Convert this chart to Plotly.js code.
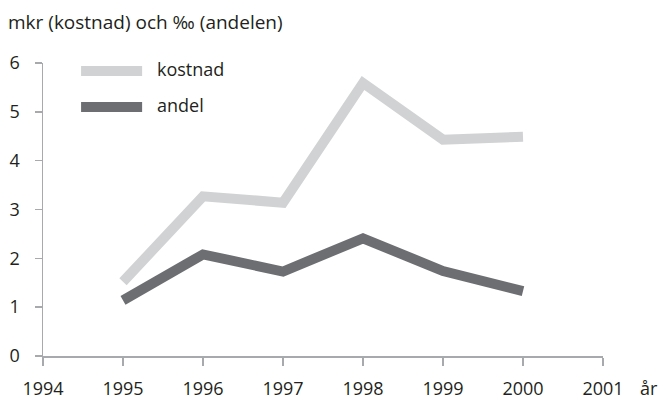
<!DOCTYPE html>
<html>
<head>
<meta charset="utf-8">
<script src="https://cdn.plot.ly/plotly-3.0.1.min.js"></script>
<style>html,body{margin:0;padding:0;background:#fff;}#chart{width:667px;height:401px;}</style>
</head>
<body>
<div id="chart"></div>
<script>
const years = [1995, 1996, 1997, 1998, 1999, 2000];
const kostnad = [1.52, 3.27, 3.14, 5.59, 4.43, 4.49];
const andel = [1.14, 2.08, 1.73, 2.41, 1.74, 1.33];
const xTicks = [1994, 1995, 1996, 1997, 1998, 1999, 2000, 2001];
const yTicks = [0, 1, 2, 3, 4, 5, 6];
const seriesNames = ['kostnad', 'andel'];
const seriesColors = ['#d1d2d4', '#6d6e71'];

const font = {family: 'Open Sans, sans-serif', size: 18, color: '#231f20'};
const axisColor = '#a7a9ac';

const traces = [
  {x: years, y: kostnad, name: seriesNames[0], mode: 'lines', line: {color: seriesColors[0], width: 10}, hoverinfo: 'skip'},
  {x: years, y: andel, name: seriesNames[1], mode: 'lines', line: {color: seriesColors[1], width: 10}, hoverinfo: 'skip'}
];

const legendY = [0.973, 0.85];
const shapes = seriesNames.map((n, i) => ({
  type: 'line', xref: 'paper', yref: 'paper',
  x0: 0.068, x1: 0.177, y0: legendY[i], y1: legendY[i],
  line: {color: seriesColors[i], width: 10}
}));
const annotations = seriesNames.map((n, i) => ({
  text: n, xref: 'paper', yref: 'paper', x: 0.2, y: legendY[i] + 0.005,
  xanchor: 'left', yanchor: 'middle', showarrow: false, font: font
}));
annotations.push({
  text: 'år', xref: 'paper', yref: 'paper', x: 1.062, y: -0.108,
  xanchor: 'left', yanchor: 'middle', showarrow: false, font: font
});

const layout = {
  width: 667, height: 401,
  margin: {l: 43, r: 64, t: 63, b: 45},
  paper_bgcolor: '#fff', plot_bgcolor: '#fff',
  font: font,
  showlegend: false,
  title: {text: 'mkr (kostnad) och ‰ (andelen)', x: 0.012, xref: 'container', xanchor: 'left', y: 0.945, yref: 'container', yanchor: 'middle', font: {family: font.family, size: 19, color: font.color}},
  xaxis: {
    range: [1994, 2001], tickvals: xTicks, ticktext: xTicks.map(String),
    showgrid: false, zeroline: false, showline: true, linecolor: axisColor, linewidth: 1.5,
    ticks: 'outside', ticklen: 8, tickcolor: axisColor, tickwidth: 1.5,
    ticklabelstandoff: 8, tickfont: font, fixedrange: true
  },
  yaxis: {
    range: [0, 6], tickvals: yTicks, ticktext: yTicks.map(String),
    showgrid: false, zeroline: false, showline: true, linecolor: axisColor, linewidth: 1.5,
    ticks: 'outside', ticklen: 7, tickcolor: axisColor, tickwidth: 1.5,
    ticklabelstandoff: 11, tickfont: font, fixedrange: true
  },
  shapes: shapes,
  annotations: annotations
};

Plotly.newPlot('chart', traces, layout, {staticPlot: true, displayModeBar: false});
</script>
</body>
</html>
